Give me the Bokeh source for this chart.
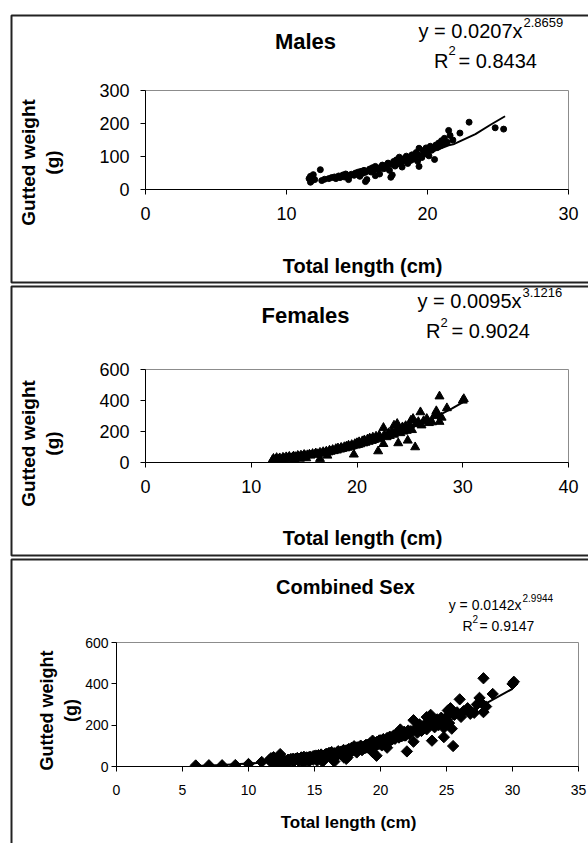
import math
from bokeh.plotting import figure
from bokeh.models import Range1d, FixedTicker, Label, BoxAnnotation
from bokeh.layouts import column
from bokeh.embed import file_html
from bokeh.resources import INLINE

# ---------------- data ----------------
males_tl = [11.6, 11.7, 11.7, 11.8, 11.9, 12.0, 12.4, 12.5, 12.7, 13.0,
            13.2, 13.4, 13.5, 13.7, 13.8, 14.0, 14.1, 14.2, 14.4, 14.5,
            14.6, 14.8, 14.9, 15.0, 15.1, 15.2, 15.3, 15.4, 15.5, 15.6,
            15.6, 15.7, 15.8, 15.9, 16.0, 16.1, 16.2, 16.3, 16.3, 16.5,
            16.6, 16.7, 16.8, 16.9, 17.0, 17.1, 17.2, 17.3, 17.4, 17.5,
            17.5, 17.6, 17.7, 17.8, 17.9, 18.0, 18.1, 18.2, 18.3, 18.4,
            18.5, 18.6, 18.7, 18.8, 18.9, 19.0, 19.1, 19.2, 19.3, 19.4,
            19.4, 19.5, 19.6, 19.7, 19.8, 19.9, 20.0, 20.1, 20.2, 20.3,
            20.4, 20.5, 20.6, 20.7, 20.8, 20.9, 21.0, 21.1, 21.2, 21.4,
            21.5, 21.6, 21.8, 22.3, 22.95, 24.8, 25.4]
males_gw = [33, 22, 40, 27, 45, 30, 60, 27, 31, 33,
            36, 38, 33, 41, 36, 44, 38, 47, 30, 42,
            46, 43, 50, 47, 53, 40, 55, 49, 58, 24,
            52, 30, 57, 62, 53, 66, 58, 42, 70, 61,
            47, 68, 74, 63, 72, 66, 80, 58, 37, 44,
            76, 85, 71, 90, 78, 98, 82, 68, 93, 86,
            101, 79, 96, 88, 105, 92, 99, 112, 86, 70,
            125, 104, 97, 118, 108, 126, 113, 102, 131, 119,
            124, 91, 135, 127, 141, 132, 148, 138, 155, 143,
            179, 164, 150, 171, 204, 187, 183]
males_fit_tl = [12.5, 13.5, 14.5, 15.5, 16.5, 17.5, 18.5, 19.5, 20.5, 21.5, 21.9, 23.4, 24.5, 25.5]
males_fit_gw = [29, 35, 43, 52, 62, 74, 87, 101, 117, 134, 138, 168, 197, 222]

females_tl = [12.0, 12.1, 12.3, 12.4, 12.6, 12.7, 12.9, 13.0, 13.1, 13.3,
              13.4, 13.5, 13.6, 13.8, 13.9, 14.0, 14.1, 14.2, 14.3, 14.4,
              14.5, 14.6, 14.7, 14.8, 14.9, 15.0, 15.1, 15.2, 15.3, 15.5,
              15.6, 15.8, 16.0, 16.1, 16.3, 16.5, 16.5, 16.7, 16.8, 17.0,
              17.1, 17.2, 17.3, 17.4, 17.5, 17.7, 17.8, 18.0, 18.1, 18.2,
              18.4, 18.5, 18.6, 18.8, 18.9, 19.0, 19.1, 19.2, 19.4, 19.5,
              19.6, 19.7, 19.8, 19.9, 20.0, 20.1, 20.2, 20.3, 20.5, 20.6,
              20.7, 20.8, 21.0, 21.1, 21.2, 21.4, 21.5, 21.6, 21.8, 21.9,
              22.0, 22.1, 22.2, 22.5, 22.5, 22.6, 22.8, 23.0, 23.1, 23.3,
              23.5, 23.5, 23.7, 23.8, 23.9, 24.0, 24.1, 24.3, 24.4, 24.6,
              24.7, 24.8, 24.9, 25.0, 25.1, 25.2, 25.3, 25.5, 25.6, 25.8,
              26.0, 26.1, 26.3, 26.6, 26.8, 27.1, 27.3, 27.5, 27.6, 27.8,
              27.8, 28.0, 28.5, 30.0, 30.1]
females_gw = [15, 25, 20, 30, 22, 28, 18, 32, 26, 35,
              22, 30, 38, 27, 34, 40, 20, 36, 30, 44,
              38, 25, 46, 40, 33, 50, 43, 28, 48, 52,
              45, 56, 50, 60, 55, 24, 64, 58, 68, 62,
              72, 45, 66, 78, 70, 82, 74, 88, 78, 92,
              84, 96, 88, 100, 92, 104, 96, 110, 100, 114,
              106, 52, 120, 110, 126, 114, 132, 118, 138, 124,
              144, 128, 150, 134, 156, 140, 162, 146, 168, 150,
              73, 174, 156, 120, 224, 180, 164, 190, 172, 200,
              239, 180, 208, 250, 125, 212, 190, 228, 200, 236,
              205, 142, 220, 240, 271, 210, 282, 99, 250, 262,
              325, 240, 268, 282, 255, 260, 300, 332, 310, 263,
              427, 290, 351, 400, 410]
females_fit_tl = [12, 14, 16, 18, 20, 22, 24, 26, 27, 28, 29, 30]
females_fit_gw = [22, 36, 55, 79, 110, 147, 193, 248, 279, 313, 349, 388]

juveniles_tl = [6.0, 7.0, 8.0, 9.0, 10.0, 11.0]
juveniles_gw = [5, 6, 6, 7, 12, 22]
combined_tl = juveniles_tl + males_tl + females_tl
combined_gw = juveniles_gw + males_gw + females_gw
combined_fit_tl = [6, 8, 10, 12, 14, 16, 18, 20, 22, 24, 26, 28, 30]
combined_fit_gw = [3, 7, 14, 24, 38, 57, 82, 112, 149, 193, 245, 306, 376]

SANS = "Liberation Sans"
W, H = 588, 843

# ---------------- background page: panel boxes and all texts ----------------
bg = figure(width=W, height=H, output_backend="svg", toolbar_location=None,
            x_range=Range1d(0, W), y_range=Range1d(H, 0), frame_align=False,
            x_axis_type=None, y_axis_type=None, min_border=0,
            background_fill_color="white", border_fill_color="white")
bg.grid.visible = False
bg.outline_line_color = None

for top, bottom in ((15, 282), (286, 555), (559, 900)):
    bg.add_layout(BoxAnnotation(left=11, right=700, top=top, bottom=bottom,
                                fill_alpha=0, line_color="#222222", line_width=2, line_alpha=1))

DY = 7  # shift of alphabetic baselines


def lab(px, py, text, size, bold=False, align="left", baseline="alphabetic", angle=0.0):
    if baseline == "alphabetic":
        py = py - DY
    bg.add_layout(Label(x=px, y=py, text=text, text_font=SANS, text_font_size=size,
                        text_font_style="bold" if bold else "normal",
                        text_align=align, text_baseline=baseline, angle=angle,
                        text_color="black"))


# Males texts
lab(305, 48, "Males", "22px", bold=True, align="center")
lab(522, 37, "y = 0.0207x", "20px", align="right")
lab(523, 29, "2.8659", "13px")
lab(448, 67, "R", "20px", align="right")
lab(448, 57, "2", "13px")
lab(458, 67, "= 0.8434", "20px")
lab(28, 162, "Gutted weight", "19px", bold=True, align="center", baseline="middle", angle=math.pi / 2)
lab(52, 162, "(g)", "19px", bold=True, align="center", baseline="middle", angle=math.pi / 2)
lab(362, 272, "Total length (cm)", "20px", bold=True, align="center")

# Females texts
lab(305, 322, "Females", "22px", bold=True, align="center")
lab(521, 307, "y = 0.0095x", "20px", align="right")
lab(522, 299, "3.1216", "13px")
lab(440, 337, "R", "20px", align="right")
lab(440, 329, "2", "13px")
lab(451, 337, "= 0.9024", "20px")
lab(28, 443, "Gutted weight", "19px", bold=True, align="center", baseline="middle", angle=math.pi / 2)
lab(52, 443, "(g)", "19px", bold=True, align="center", baseline="middle", angle=math.pi / 2)
lab(362, 544, "Total length (cm)", "20px", bold=True, align="center")

# Combined texts
lab(345, 593, "Combined Sex", "20px", bold=True, align="center")
lab(521, 611, "y = 0.0142x", "14px", align="right")
lab(522, 604, "2.9944", "10px")
lab(472, 632, "R", "14px", align="right")
lab(472, 625, "2", "10px")
lab(479, 632, "= 0.9147", "14px")
lab(46, 710, "Gutted weight", "18px", bold=True, align="center", baseline="middle", angle=math.pi / 2)
lab(70, 710, "(g)", "18px", bold=True, align="center", baseline="middle", angle=math.pi / 2)
lab(348, 829, "Total length (cm)", "17px", bold=True, align="center")


# ---------------- chart panels laid over the page ----------------
def make_panel(height, canvas_top, frame, xr, yr, xticks, yticks, tick_size,
               x_standoff, y_standoff, margin_top):
    width, canvas_left = 576, 12
    L, R, T, B = frame
    p = figure(width=width, height=height, output_backend="svg", toolbar_location=None,
               x_range=Range1d(*xr), y_range=Range1d(*yr), frame_align=False,
               min_border_left=L - canvas_left, min_border_right=width - (R - canvas_left),
               min_border_top=T - canvas_top, min_border_bottom=height - (B - canvas_top),
               background_fill_color="white", border_fill_alpha=0,
               styles={"margin-left": "12px", "margin-top": f"{margin_top}px"})
    p.outline_line_color = "#8c8c8c"
    p.outline_line_width = 1
    p.grid.visible = False
    for ax, ticks, so in ((p.xaxis[0], xticks, x_standoff), (p.yaxis[0], yticks, y_standoff)):
        ax.ticker = FixedTicker(ticks=ticks)
        ax.minor_tick_line_color = None
        ax.major_tick_in = 0
        ax.major_tick_out = 5
        ax.axis_line_color = "black"
        ax.major_tick_line_color = "black"
        ax.major_label_text_font = SANS
        ax.major_label_text_font_size = tick_size
        ax.major_label_text_color = "black"
        ax.major_label_standoff = so
    return p


p1 = make_panel(265, 16, (145, 568, 90, 189), (0, 30), (0, 300),
                [0, 10, 20, 30], [0, 100, 200, 300], "18px", 12, 11, 16 - H)
p1.scatter(males_tl, males_gw, marker="circle", size=6, color="black")
p1.line(males_fit_tl, males_fit_gw, line_color="black", line_width=2)

p2 = make_panel(267, 287, (145, 568, 369, 462), (0, 40), (0, 600),
                [0, 10, 20, 30, 40], [0, 200, 400, 600], "18px", 12, 11, 6)
p2.scatter(females_tl, females_gw, marker="triangle", size=9, color="black")
p2.line(females_fit_tl, females_fit_gw, line_color="black", line_width=2)

p3 = make_panel(283, 560, (116, 578, 642, 766), (0, 35), (0, 600),
                [0, 5, 10, 15, 20, 25, 30, 35], [0, 200, 400, 600], "14px", 13, 3, 6)
p3.scatter(combined_tl, combined_gw, marker="square", angle=math.pi / 4, size=8, color="black")
p3.line(combined_fit_tl, combined_fit_gw, line_color="black", line_width=2)

layout = column(bg, p1, p2, p3, spacing=0)
open("out.html", "w").write(file_html(layout, INLINE))
